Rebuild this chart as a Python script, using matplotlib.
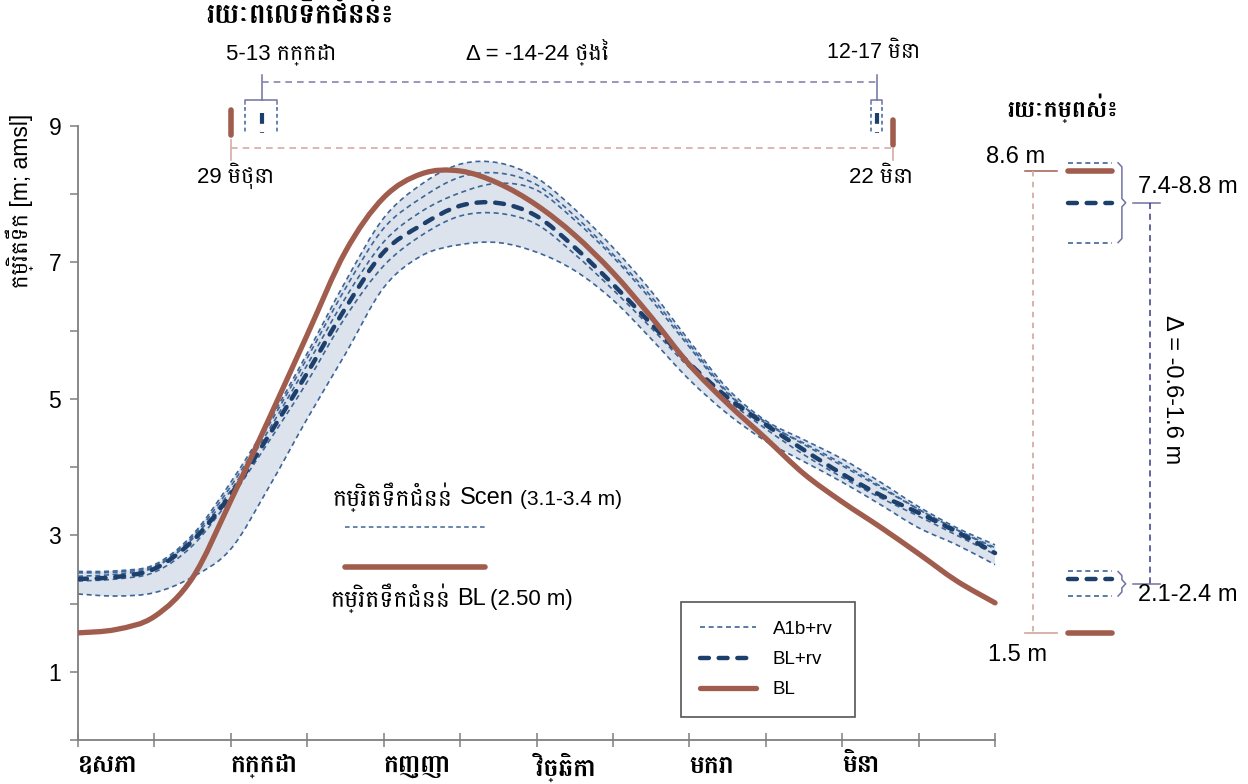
import numpy as np
import matplotlib
matplotlib.use("Agg")
import matplotlib.pyplot as plt
from matplotlib.lines import Line2D
from matplotlib.path import Path
from matplotlib.patches import PathPatch

LAT = 'Liberation Sans'
KH = ['Liberation Sans', 'Battambang']

# x = months after 1 May, values read every half month
months = np.arange(0, 12.5, 0.5)
month_ticks = np.arange(0, 13)
month_names = ['ឧសភា', '', 'កក្កដា', '', 'កញ្ញា', '', 'វិច្ឆិកា', '', 'មករា', '', 'មិនា', '', '']

bl = [1.57, 1.62, 1.81, 2.38, 3.51, 4.71, 5.94, 7.16, 7.95, 8.30, 8.34, 8.16, 7.84,
      7.40, 6.85, 6.20, 5.50, 4.93, 4.42, 3.90, 3.49, 3.12, 2.73, 2.33, 2.01]
bl_rv = [2.36, 2.39, 2.51, 2.92, 3.60, 4.47, 5.38, 6.33, 7.15, 7.55, 7.83, 7.87, 7.68,
         7.22, 6.68, 6.10, 5.52, 5.02, 4.62, 4.25, 3.90, 3.59, 3.33, 3.05, 2.74]
a1b_hi = [2.47, 2.48, 2.57, 3.01, 3.78, 4.67, 5.67, 6.72, 7.65, 8.15, 8.44, 8.46, 8.24,
          7.78, 7.22, 6.58, 5.85, 5.15, 4.68, 4.40, 4.12, 3.78, 3.42, 3.11, 2.86]
a1b_2 = [2.45, 2.46, 2.55, 2.98, 3.72, 4.62, 5.60, 6.62, 7.50, 7.95, 8.25, 8.31, 8.14,
         7.68, 7.12, 6.50, 5.80, 5.10, 4.64, 4.35, 4.05, 3.72, 3.38, 3.08, 2.82]
a1b_3 = [2.40, 2.43, 2.53, 2.95, 3.66, 4.55, 5.50, 6.48, 7.30, 7.75, 8.02, 8.16, 8.06,
         7.62, 7.08, 6.45, 5.76, 5.08, 4.66, 4.33, 4.02, 3.70, 3.38, 3.08, 2.80]
a1b_4 = [2.33, 2.36, 2.46, 2.85, 3.55, 4.38, 5.25, 6.20, 6.95, 7.40, 7.68, 7.72, 7.56,
         7.12, 6.60, 6.04, 5.46, 4.98, 4.56, 4.18, 3.85, 3.55, 3.28, 3.00, 2.72]
a1b_lo = [2.14, 2.11, 2.16, 2.39, 2.80, 3.71, 4.71, 5.66, 6.63, 7.10, 7.26, 7.29, 7.15,
          6.88, 6.45, 5.88, 5.28, 4.78, 4.38, 4.08, 3.78, 3.45, 3.11, 2.86, 2.57]
a1b_all = [a1b_hi, a1b_2, a1b_3, a1b_4, a1b_lo]

# flood period (month positions)
bl_start, bl_end = 2.0, 10.66
scen_start = (2.19, 2.60)
scen_end = (10.38, 10.52)
blrv_start, blrv_end = 2.41, 10.46

C_BL = '#A05C4D'
C_RV = '#1C3F6C'
C_A1B = '#3D6597'
C_FILL = '#DCE3EC'
C_BR = '#7272A2'
C_BLLIGHT = '#D6ADA4'

W, H = 1248, 784
fig = plt.figure(figsize=(W / 100, H / 100), dpi=100)


def fx(px):
    return px / W


def fy(py):
    return 1 - py / H


def smooth(x, y):
    # smoothed line through the read points (like a spreadsheet "smoothed line")
    p = np.column_stack([x, y])
    verts, codes = [p[0]], [Path.MOVETO]
    n = len(p)
    for i in range(n - 1):
        p0 = p[max(i - 1, 0)]
        p3 = p[min(i + 2, n - 1)]
        verts += [p[i] + (p[i + 1] - p0) / 6, p[i + 1] - (p3 - p[i]) / 6, p[i + 1]]
        codes += [Path.CURVE4] * 3
    return verts, codes


def curve(ax, x, y, **kw):
    v, c = smooth(x, y)
    patch = PathPatch(Path(v, c), fill=False, **kw)
    ax.add_patch(patch)
    return patch


ax = fig.add_axes([fx(78), fy(740), 1 - fx(78), fy(0) - fy(740)])
ax.set_xlim(0, (W - 78) / 76.42)
ax.set_ylim(0, 9 + 126 / 68.25)
for s in ['top', 'right']:
    ax.spines[s].set_visible(False)
for s in ['left', 'bottom']:
    ax.spines[s].set_color('#7f7f7f')
    ax.spines[s].set_linewidth(1.3)
ax.spines['left'].set_bounds(0, 9)
ax.spines['bottom'].set_bounds(0, 12)

ax.set_yticks([1, 3, 5, 7, 9])
ax.set_yticks([0, 2, 4, 6, 8], minor=True)
ax.tick_params(axis='y', which='both', direction='out', length=6, width=1.1,
               color='#7f7f7f', labelsize=16.5, pad=6)
ax.set_xticks(month_ticks)
ax.set_xticklabels(month_names)
ax.tick_params(axis='x', direction='inout', length=10, width=1.1, color='#7f7f7f', pad=4)
for t in ax.get_yticklabels():
    t.set_family(LAT)
for t in ax.get_xticklabels():
    t.set_family('Battambang')
    t.set_fontweight('bold')
    t.set_fontsize(18)
    t.set_ha('left')

# band between the highest and lowest A1b+rv runs
vu, cu = smooth(months, a1b_hi)
vl, cl = smooth(months[::-1], a1b_lo[::-1])
band = Path(vu + vl + [vu[0]], cu + [Path.LINETO] + cl[1:] + [Path.CLOSEPOLY])
ax.add_patch(PathPatch(band, facecolor=C_FILL, edgecolor='none', zorder=1))

thin = dict(color=C_A1B, lw=1.2, linestyle=(0, (3, 2.2)))
thick = dict(color=C_RV, lw=3.2, linestyle=(0, (2.0, 2.2)))
solid = dict(color=C_BL, lw=3.8)
for ser in a1b_all:
    curve(ax, months, ser, edgecolor=C_A1B, lw=1.2, linestyle=(0, (3, 2.2)), zorder=2)
p = curve(ax, months, bl_rv, edgecolor=C_RV, lw=3.2, linestyle=(0, (2.0, 2.2)), zorder=3)
p.set_capstyle('round')
p = curve(ax, months, bl, edgecolor=C_BL, lw=3.8, zorder=4)
p.set_capstyle('round')


def ypx(py):
    # layout row (figure pixel) to data y
    return 9 - (py - 126) / 68.25


# ---- flood period annotation (top)
ln = dict(clip_on=False)
ax.plot([bl_start, bl_start], [ypx(110), ypx(135)], color=C_BL, lw=4, solid_capstyle='round', **ln)
ax.plot([bl_end, bl_end], [ypx(120), ypx(145)], color=C_BL, lw=4, solid_capstyle='round', **ln)
ax.plot([bl_start, bl_start], [ypx(140), ypx(160)], color=C_BLLIGHT, lw=1.2, **ln)
ax.plot([bl_end, bl_end], [ypx(148), ypx(160)], color=C_BLLIGHT, lw=1.2, **ln)
ax.plot([bl_start, bl_end], [ypx(148), ypx(148)], color=C_BLLIGHT, lw=1.2,
        linestyle=(0, (4, 3)), **ln)
for lo, hi, mid in [(scen_start[0], scen_start[1], blrv_start), (scen_end[0], scen_end[1], blrv_end)]:
    for xv in (lo, hi):
        ax.plot([xv, xv], [ypx(107), ypx(133)], color=C_A1B, lw=1.1, linestyle=(0, (2.5, 2)), **ln)
    ax.plot([mid, mid], [ypx(113), ypx(133)], color=C_RV, lw=3, linestyle=(0, (2.6, 2.0)), **ln)
    ax.plot([lo, lo, hi, hi], [ypx(104), ypx(100), ypx(100), ypx(104)], color=C_BR, lw=1.1, **ln)
    ax.plot([mid, mid], [ypx(100), ypx(75)], color=C_BR, lw=1.1, **ln)
ax.plot([blrv_start, blrv_end], [ypx(82), ypx(82)], color='#8585B0', lw=1.2,
        linestyle=(0, (4, 3)), **ln)

fig.text(fx(300), fy(15), 'រយៈពេលទឹកជំនន់៖', family='Battambang', fontweight='bold',
         fontsize=20, ha='center', va='center')
fig.text(fx(281), fy(55), '5-13 កក្កដា', family=KH, fontsize=16, ha='center', va='center')
fig.text(fx(537), fy(52), 'Δ = -14-24 ថ្ងៃ', family=KH, fontsize=16, ha='center', va='center')
fig.text(fx(874), fy(52), '12-17 មិនា', family=KH, fontsize=15.5, ha='center', va='center')
fig.text(fx(236), fy(176), '29 មិថុនា', family=KH, fontsize=16, ha='center', va='center')
fig.text(fx(881), fy(177), '22 មិនា', family=KH, fontsize=16, ha='center', va='center')

# ---- height range annotation (right)
x_mk = [12.95, 13.53]
top_vals = [max(max(s) for s in a1b_all), max(bl), max(bl_rv), min(max(s) for s in a1b_all)]
bot_vals = [max(min(s) for s in a1b_all), min(bl_rv), min(min(s) for s in a1b_all), min(bl)]
for v, st in zip(top_vals + bot_vals, ['a', 'b', 'r', 'a', 'a', 'r', 'a', 'b']):
    if st == 'a':
        ax.plot(x_mk, [v, v], **thin, **ln)
    elif st == 'r':
        ax.plot(x_mk, [v, v], dash_capstyle='round', **thick, **ln)
    else:
        ax.plot(x_mk, [v, v], color=C_BL, lw=4, solid_capstyle='round', **ln)

# brown BL min-max reference
ax.plot([12.39, 12.81], [max(bl), max(bl)], color=C_BL, lw=1.1, **ln)
ax.plot([12.39, 12.81], [min(bl), min(bl)], color=C_BLLIGHT, lw=1.3, **ln)
ax.plot([12.50, 12.50], [max(bl), min(bl)], color=C_BLLIGHT, lw=1.3, linestyle=(0, (3, 3)), **ln)


def brace(top, bot, x0=13.61, x1=13.66, x2=13.71):
    mid = (top + bot) / 2
    d = 0.06
    ax.plot([x0, x1, x1, x2, x1, x1, x0],
            [top, top - d, mid + d, mid, mid - d, bot + d, bot], color=C_BR, lw=1.1, **ln)
    return mid


m_top = brace(top_vals[0], top_vals[3])
m_bot = brace(bot_vals[0], bot_vals[2])
ax.plot([13.81, 14.16], [m_top, m_top], color=C_BR, lw=1.1, **ln)
ax.plot([13.81, 14.16], [m_bot, m_bot], color=C_BR, lw=1.1, **ln)
ax.plot([14.03, 14.03], [m_top, m_bot], color='#3B3B85', lw=1.1, linestyle=(0, (4, 3)), **ln)

fig.text(fx(1063), fy(108), 'រយៈកម្ពស់៖', family='Battambang', fontweight='bold',
         fontsize=17, ha='center', va='center')
fig.text(fx(1016), fy(157), '8.6 m', family=LAT, fontsize=17, ha='center', va='center')
fig.text(fx(1017), fy(655), '1.5 m', family=LAT, fontsize=17, ha='center', va='center')
fig.text(fx(1138), fy(187), '7.4-8.8 m', family=LAT, fontsize=17, ha='left', va='center')
fig.text(fx(1138), fy(595), '2.1-2.4 m', family=LAT, fontsize=17, ha='left', va='center')
fig.text(fx(1172), fy(390), 'Δ = -0.6-1.6 m', family=LAT, fontsize=17, ha='center',
         va='center', rotation=-90)

# y label
fig.text(fx(20), fy(201), 'កម្រិតទឹក [m; amsl]', family=KH, fontsize=16.5, ha='center',
         va='center', rotation=90)

# ---- flood level key
fig.text(fx(333), fy(497), 'កម្រិតទឹកជំនន់', family='Battambang', fontsize=17,
         ha='left', va='center')
fig.text(fx(460), fy(498), 'Scen', family=LAT, fontsize=17, ha='left', va='center')
fig.text(fx(520), fy(499), '(3.1-3.4 m)', family=LAT, fontsize=15, ha='left', va='center')
fig.add_artist(Line2D([fx(345), fx(485)], [fy(527), fy(527)], color=C_A1B, lw=1.1,
                      linestyle=(0, (3, 2.2))))
fig.add_artist(Line2D([fx(345), fx(485)], [fy(567), fy(567)], color=C_BL, lw=4,
                      solid_capstyle='round'))
fig.text(fx(330), fy(598), 'កម្រិតទឹកជំនន់', family='Battambang', fontsize=17,
         ha='left', va='center')
fig.text(fx(457), fy(599), 'BL', family=LAT, fontsize=17, ha='left', va='center')
fig.text(fx(490), fy(600), '(2.50 m)', family=LAT, fontsize=16, ha='left', va='center')

# ---- legend
handles = [Line2D([], [], **thin),
           Line2D([], [], dash_capstyle='round', **thick),
           Line2D([], [], solid_capstyle='round', **solid)]
leg = fig.legend(handles, ['A1b+rv', 'BL+rv', 'BL'], loc='upper left',
                 bbox_to_anchor=(fx(681), fy(718), fx(855) - fx(681), fy(602) - fy(718)),
                 mode='expand', borderaxespad=0, fancybox=False, edgecolor='#555555',
                 framealpha=1, prop={'family': LAT, 'size': 13.5}, handlelength=3.0,
                 handletextpad=0.9, borderpad=1.0, labelspacing=0.7)
leg.get_frame().set_linewidth(1.2)

fig.savefig('out.png', dpi=100)
